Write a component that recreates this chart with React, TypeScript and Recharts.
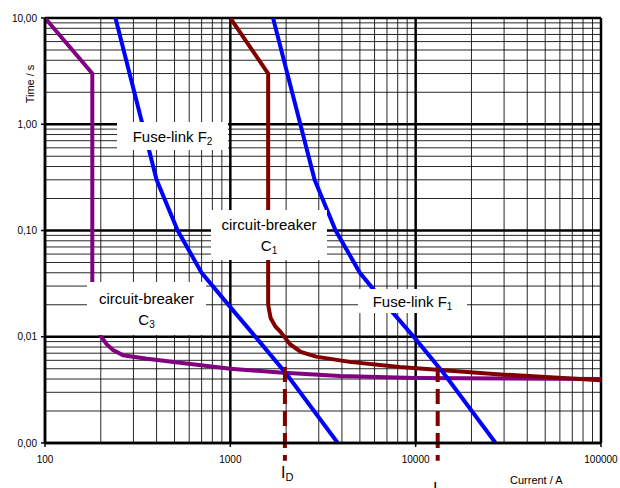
import React from "react";
import { LineChart, Line, XAxis, YAxis, ReferenceLine } from "recharts";

// time-current characteristics, current in A, time in s
const breakerC3 = [
  { i: 100, t: 10 }, { i: 180, t: 3 }, { i: 180, t: 0.018 }, { i: 200, t: 0.0101 },
  { i: 215, t: 0.0085 }, { i: 233, t: 0.0075 }, { i: 264, t: 0.0067 }, { i: 355, t: 0.0062 },
  { i: 535, t: 0.0057 }, { i: 1000, t: 0.005 }, { i: 1850, t: 0.0046 }, { i: 3900, t: 0.00428 },
  { i: 10000, t: 0.0041 }, { i: 100000, t: 0.004 },
];
const breakerC1 = [
  { i: 1000, t: 10 }, { i: 1600, t: 3 }, { i: 1600, t: 0.02 }, { i: 1650, t: 0.015 },
  { i: 1750, t: 0.0125 }, { i: 1850, t: 0.0113 }, { i: 2100, t: 0.0085 }, { i: 2400, t: 0.0072 },
  { i: 2900, t: 0.0065 }, { i: 4400, t: 0.0058 }, { i: 8200, t: 0.0052 }, { i: 13000, t: 0.0049 },
  { i: 30000, t: 0.0044 }, { i: 100000, t: 0.0039 },
];
const fuseF2 = [
  { i: 240, t: 10 }, { i: 400, t: 0.3 }, { i: 520, t: 0.1 }, { i: 700, t: 0.04 },
  { i: 1000, t: 0.019 }, { i: 1400, t: 0.0095 }, { i: 2000, t: 0.0045 }, { i: 3800, t: 0.001 },
];
const fuseF1 = [
  { i: 1700, t: 10 }, { i: 2850, t: 0.3 }, { i: 3700, t: 0.1 }, { i: 5000, t: 0.04 },
  { i: 7100, t: 0.019 }, { i: 10000, t: 0.0095 }, { i: 14200, t: 0.0045 }, { i: 27000, t: 0.001 },
];

// I_D and I_1 markers
const markerCurrents = [1970, 13150];
const markerTop = 0.0052;
const markerBottom = 0.00068;

const xTicks = [100, 1000, 10000, 100000];
const yTicks = [0.001, 0.01, 0.1, 1, 10];
const xDecades = [100, 1000, 10000];
const yDecades = [0.001, 0.01, 0.1, 1];
const gridSteps = [2, 3, 4, 5, 6, 7, 8, 9];

const xMinor = xDecades.flatMap((d) => gridSteps.map((s) => d * s));
const yMinor = yDecades.flatMap((d) => gridSteps.map((s) => d * s));

const font = "'Liberation Sans', Arial, sans-serif";

const boxBase: React.CSSProperties = {
  position: "absolute",
  background: "#fff",
  display: "flex",
  flexDirection: "column",
  alignItems: "center",
  justifyContent: "center",
  fontFamily: font,
  fontSize: 15,
  lineHeight: "21px",
  color: "#000",
};

const Sub = ({ children, size = 10 }: { children: React.ReactNode; size?: number }) => (
  <span style={{ fontSize: size, position: "relative", top: 3, lineHeight: 0 }}>{children}</span>
);

export default function App() {
  return (
    <div style={{ position: "absolute", left: 0, top: 0, width: 620, height: 488, background: "#fff", overflow: "hidden" }}>
      <LineChart width={620} height={488} margin={{ top: 18, right: 19, left: 0, bottom: 0 }}>
        {yMinor.map((v) => (
          <ReferenceLine key={"hy" + v} y={v} stroke="#000" strokeWidth={1} strokeOpacity={0.85} />
        ))}
        {xMinor.map((v) => (
          <ReferenceLine key={"vx" + v} x={v} stroke="#000" strokeWidth={1} strokeOpacity={0.85} />
        ))}
        {yTicks.map((v) => (
          <ReferenceLine key={"Hy" + v} y={v} stroke="#000" strokeWidth={2.5} />
        ))}
        {xTicks.map((v) => (
          <ReferenceLine key={"Vx" + v} x={v} stroke="#000" strokeWidth={2.5} />
        ))}
        <XAxis
          type="number"
          dataKey="i"
          scale="log"
          domain={[100, 100000]}
          ticks={xTicks}
          height={45}
          allowDataOverflow
          axisLine={{ stroke: "#000", strokeWidth: 2.5 }}
          tickLine={{ stroke: "#000", strokeWidth: 1.5 }}
          tickSize={4}
          tickMargin={9}
          tick={{ fill: "#000", fontSize: 10, fontFamily: font }}
        />
        <YAxis
          type="number"
          dataKey="t"
          scale="log"
          domain={[0.001, 10]}
          ticks={yTicks}
          width={45}
          allowDataOverflow
          axisLine={{ stroke: "#000", strokeWidth: 2.5 }}
          tickLine={{ stroke: "#000", strokeWidth: 1.5 }}
          tickSize={4}
          tickMargin={4}
          tick={{ fill: "#000", fontSize: 10, fontFamily: font }}
          tickFormatter={(v: number) => v.toFixed(2).replace(".", ",")}
        />
        <Line data={breakerC3} dataKey="t" type="linear" stroke="#800080" strokeWidth={4} dot={false} isAnimationActive={false} />
        <Line data={breakerC1} dataKey="t" type="linear" stroke="#800000" strokeWidth={4} dot={false} isAnimationActive={false} />
        <Line data={fuseF2} dataKey="t" type="linear" stroke="#0000ff" strokeWidth={4} dot={false} isAnimationActive={false} />
        <Line data={fuseF1} dataKey="t" type="linear" stroke="#0000ff" strokeWidth={4} dot={false} isAnimationActive={false} />
        {markerCurrents.map((c) => (
          <ReferenceLine
            key={c}
            segment={[{ x: c, y: markerTop }, { x: c, y: markerBottom }]}
            stroke="#800000"
            strokeWidth={4}
            strokeDasharray="15 7"
            ifOverflow="visible"
          />
        ))}
      </LineChart>

      <div style={{ ...boxBase, left: 117, top: 122, width: 111, height: 28 }}>
        <div>Fuse-link F<Sub>2</Sub></div>
      </div>
      <div style={{ ...boxBase, left: 211, top: 210, width: 116, height: 50 }}>
        <div>circuit-breaker</div>
        <div>C<Sub>1</Sub></div>
      </div>
      <div style={{ ...boxBase, left: 87, top: 282, width: 119, height: 53 }}>
        <div>circuit-breaker</div>
        <div>C<Sub>3</Sub></div>
      </div>
      <div style={{ ...boxBase, left: 358, top: 289, width: 109, height: 24 }}>
        <div>Fuse-link F<Sub>1</Sub></div>
      </div>

      <div
        style={{
          position: "absolute", left: 10, top: 78, fontFamily: font, fontSize: 11, color: "#000",
          transform: "rotate(-90deg)", transformOrigin: "center", width: 40, textAlign: "center",
        }}
      >
        Time / s
      </div>
      <div style={{ position: "absolute", left: 510, top: 474, fontFamily: font, fontSize: 11, color: "#000" }}>
        Current / A
      </div>
      <div style={{ position: "absolute", left: 281, top: 464, fontFamily: font, fontSize: 16, color: "#000", lineHeight: "18px" }}>
        I<Sub size={11}>D</Sub>
      </div>
      <div style={{ position: "absolute", left: 433, top: 480, fontFamily: font, fontSize: 16, color: "#000", lineHeight: "18px" }}>
        I<Sub size={11}>1</Sub>
      </div>
    </div>
  );
}
